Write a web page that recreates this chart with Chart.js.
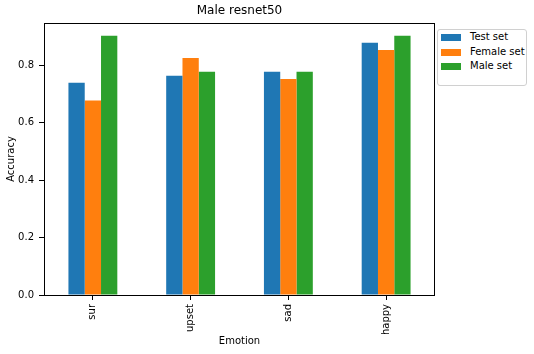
<!DOCTYPE html>
<html>
<head>
<meta charset="utf-8">
<script src="https://cdn.jsdelivr.net/npm/chart.js@4"></script>
<style>
  body { margin: 0; background: #fff; }
  #wrap { position: relative; width: 534px; height: 354px; }
  #legend {
    position: absolute; left: 437px; top: 29px; width: 88px; height: 55px;
    border: 1px solid #d0d0d0; border-radius: 3px; background: #fff;
    font-family: "DejaVu Sans", sans-serif; font-size: 10px; color: #000;
  }
  .item { position: absolute; left: 3px; height: 12px; line-height: 12px; white-space: nowrap; }
  .sw { position: absolute; left: 0; top: 3px; width: 20px; height: 7px; }
  .lbl { position: absolute; left: 29px; top: 0; }
</style>
</head>
<body>
<div id="wrap">
  <canvas id="myChart" width="534" height="354"></canvas>
  <div id="legend"></div>
</div>
<script>
// data
const categories = ["sur", "upset", "sad", "happy"];
const seriesNames = ["Test set", "Female set", "Male set"];
const testSet = [0.739, 0.763, 0.777, 0.878];
const femaleSet = [0.677, 0.825, 0.752, 0.853];
const maleSet = [0.903, 0.777, 0.777, 0.903];
const yTicks = [0.0, 0.2, 0.4, 0.6, 0.8];

// colors (matplotlib tab10)
const COLORS = ["#1f77b4", "#ff7f0e", "#2ca02c"];
const FONT = "'DejaVu Sans', sans-serif";

const seriesValues = [testSet, femaleSet, maleSet];

// draws the box around the plot area
const frame = {
  id: 'frame',
  afterDraw(chart) {
    const a = chart.chartArea;
    const ctx = chart.ctx;
    ctx.save();
    ctx.strokeStyle = '#000';
    ctx.lineWidth = 1;
    ctx.strokeRect(Math.round(a.left) + 0.5, Math.round(a.top) + 0.5,
                   Math.round(a.right - a.left) - 1, Math.round(a.bottom - a.top));
    ctx.restore();
  }
};

const ctx = document.getElementById("myChart").getContext("2d");
const chart = new Chart(ctx, {
  type: 'bar',
  data: {
    labels: categories,
    datasets: seriesNames.map((name, i) => ({
      label: name,
      data: seriesValues[i],
      backgroundColor: COLORS[i],
      borderWidth: 0,
      categoryPercentage: 0.5,
      barPercentage: 1.0,
    })),
  },
  options: {
    responsive: false,
    animation: false,
    layout: { padding: { left: 0, right: 99, top: 0, bottom: 0 } },
    scales: {
      x: {
        afterFit: (s) => { s.height = 59; },
        grid: { display: true, drawOnChartArea: false, offset: false, tickLength: 5, color: '#000' },
        border: { display: false },
        ticks: { minRotation: 90, maxRotation: 90, padding: 4, color: '#000', font: { family: FONT, size: 10 } },
        title: { display: true, text: "Emotion", color: '#000', font: { family: FONT, size: 10 }, padding: { top: 0, bottom: 7 } },
      },
      y: {
        min: 0,
        max: 0.947,
        afterFit: (s) => { s.width = 44; },
        afterBuildTicks: (s) => { s.ticks = yTicks.map(v => ({ value: v })); },
        grid: { display: true, drawOnChartArea: false, tickLength: 5, color: '#000' },
        border: { display: false },
        ticks: {
          padding: 5, color: '#000', font: { family: FONT, size: 10 },
          callback: (v) => Number(v).toFixed(1),
        },
        title: { display: true, text: "Accuracy", color: '#000', font: { family: FONT, size: 10 }, padding: { top: 5, bottom: 0 } },
      },
    },
    plugins: {
      title: {
        display: true,
        fullSize: false,
        text: "Male resnet50",
        color: '#000',
        font: { family: FONT, size: 12, weight: 'normal' },
        padding: { top: 4, bottom: 4.6 },
      },
      legend: { display: false },
      tooltip: { enabled: false },
    },
  },
  plugins: [frame],
});

// html legend
const legend = document.getElementById("legend");
seriesNames.forEach((name, i) => {
  const item = document.createElement("div");
  item.className = "item";
  item.style.top = (1 + i * 14.5) + "px";
  item.innerHTML = '<span class="sw" style="background:' + COLORS[i] + '"></span><span class="lbl">' + name + '</span>';
  legend.appendChild(item);
});
</script>
</body>
</html>
